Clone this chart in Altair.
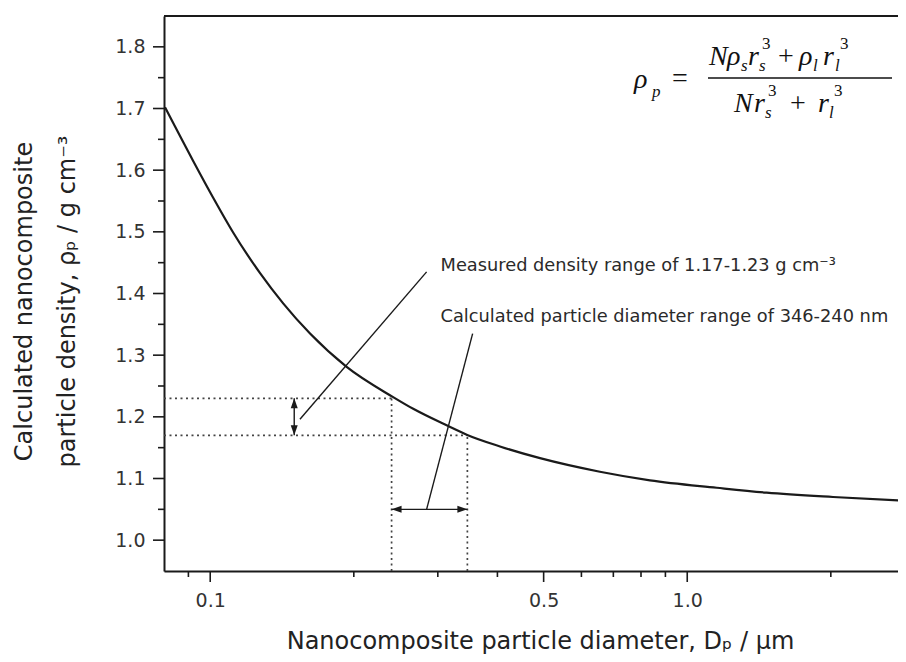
import altair as alt
import pandas as pd

# ---------------- data ----------------
diameter_um = [0.0804, 0.0921, 0.1015, 0.1117, 0.1272, 0.1422, 0.1619, 0.1932, 0.2418, 0.2664,
               0.3155, 0.3448, 0.405, 0.4913, 0.656, 0.8353, 1.153, 1.467, 2.021, 2.874]
density = [1.702, 1.615, 1.555, 1.499, 1.433, 1.384, 1.335, 1.281, 1.232, 1.213,
           1.185, 1.171, 1.152, 1.133, 1.111, 1.097, 1.085, 1.077, 1.070, 1.064]

x_major_ticks = [0.1, 0.5, 1.0]
x_minor_ticks = [0.09, 0.2, 0.3, 0.4, 0.6, 0.7, 0.8, 0.9, 2.0]
y_major_ticks = [1.0, 1.1, 1.2, 1.3, 1.4, 1.5, 1.6, 1.7, 1.8]
y_minor_ticks = [1.05, 1.15, 1.25, 1.35, 1.45, 1.55, 1.65, 1.75]

dens_lo, dens_hi = 1.17, 1.23          # measured density range
diam_lo, diam_hi = 0.240, 0.346        # calculated diameter range (um)
x_min = 0.08

# annotation anchor points (data space)
v_arrow_x = 0.15
h_arrow_y = 1.05
leader1 = [(0.1542, 1.196), (0.2842, 1.435)]
leader2 = [(0.2842, 1.050), (0.3549, 1.335)]
label1_pos = (0.304, 1.444)
label2_pos = (0.304, 1.362)
label1_text = "Measured density range of 1.17-1.23 g cm\u207b\u00b3"
label2_text = "Calculated particle diameter range of 346-240 nm"

# ---------------- layout ----------------
W, H = 734, 555
SANS = "DejaVu Sans"
SERIF = "Liberation Serif"
INK = "#1a1a1a"
MAJ, MINR = 11, 6

xs = alt.Scale(type="log", domain=[0.08, 2.766], nice=False)
ys = alt.Scale(domain=[0.95, 1.85], nice=False, zero=False)

x_axis = alt.Axis(
    values=x_major_ticks, format=".1f",
    ticks=False, tickSize=0, domainColor=INK, domainWidth=2,
    labelFont=SANS, labelFontSize=19, labelColor="#333", labelPadding=MAJ + 9,
    labelOverlap=False, labelFlush=False, grid=False,
    title="Nanocomposite particle diameter, D\u209a / \u00b5m",
    titleFont=SANS, titleFontSize=24, titleFontWeight="normal", titleColor="#222",
    titleX=376, titleY=77, titleBaseline="alphabetic", titleAlign="center",
)
y_axis = alt.Axis(
    values=y_major_ticks, format=".1f",
    ticks=False, tickSize=0, domainColor=INK, domainWidth=2,
    labelFont=SANS, labelFontSize=19, labelColor="#333", labelPadding=MAJ + 8,
    labelOverlap=False, labelFlush=False, grid=False,
    title=["Calculated nanocomposite", "particle density, \u03c1\u209a / g cm\u207b\u00b3"],
    titleFont=SANS, titleFontSize=24, titleFontWeight="normal", titleColor="#222",
    titleAngle=270, titleX=-140, titleY=285, titleAlign="center",
    titleBaseline="middle", titleLineHeight=43,
)

curve_df = pd.DataFrame({"D": diameter_um, "rho": density})
curve = alt.Chart(curve_df).mark_line(
    color=INK, strokeWidth=2.2, clip=True, interpolate="monotone"
).encode(
    x=alt.X("D:Q", scale=xs, axis=x_axis),
    y=alt.Y("rho:Q", scale=ys, axis=y_axis),
)

# axis tick marks (major longer than minor)
def x_ticks(vals, length):
    return alt.Chart(pd.DataFrame({"v": vals})).mark_rule(color=INK, strokeWidth=1.6).encode(
        x=alt.X("v:Q", scale=xs), y=alt.value(H), y2=alt.value(H + length)
    )

def y_ticks(vals, length):
    return alt.Chart(pd.DataFrame({"v": vals})).mark_rule(color=INK, strokeWidth=1.6).encode(
        y=alt.Y("v:Q", scale=ys), x=alt.value(0), x2=alt.value(-length)
    )

tick_layers = [x_ticks(x_major_ticks, MAJ), x_ticks(x_minor_ticks, MINR),
               y_ticks(y_major_ticks, MAJ), y_ticks(y_minor_ticks, MINR)]

# dotted guide lines
guides_df = pd.DataFrame({
    "x": [x_min, x_min, diam_lo, diam_hi],
    "x2": [diam_lo, diam_hi, diam_lo, diam_hi],
    "y": [dens_hi, dens_lo, 0.95, 0.95],
    "y2": [dens_hi, dens_lo, dens_hi, dens_lo],
})
guides = alt.Chart(guides_df).mark_rule(
    color="#444", strokeWidth=1.7, strokeDash=[2, 3.5]
).encode(x=alt.X("x:Q", scale=xs), x2="x2:Q", y=alt.Y("y:Q", scale=ys), y2="y2:Q")

# arrow shafts and leader lines
lines_df = pd.DataFrame({
    "x": [v_arrow_x, diam_lo, leader1[0][0], leader2[0][0]],
    "x2": [v_arrow_x, diam_hi, leader1[1][0], leader2[1][0]],
    "y": [dens_lo, h_arrow_y, leader1[0][1], leader2[0][1]],
    "y2": [dens_hi, h_arrow_y, leader1[1][1], leader2[1][1]],
})
lines = alt.Chart(lines_df).mark_rule(color=INK, strokeWidth=1.4).encode(
    x=alt.X("x:Q", scale=xs), x2="x2:Q", y=alt.Y("y:Q", scale=ys), y2="y2:Q"
)

heads = []
for (hx, hy, path) in [
    (v_arrow_x, dens_hi, "M0,0 L-0.35,1 L0.35,1 Z"),
    (v_arrow_x, dens_lo, "M0,0 L-0.35,-1 L0.35,-1 Z"),
    (diam_lo, h_arrow_y, "M0,0 L1,-0.35 L1,0.35 Z"),
    (diam_hi, h_arrow_y, "M0,0 L-1,-0.35 L-1,0.35 Z"),
]:
    heads.append(
        alt.Chart(pd.DataFrame({"x": [hx], "y": [hy]})).mark_point(
            shape=path, filled=True, color=INK, size=400, opacity=1, strokeWidth=0
        ).encode(x=alt.X("x:Q", scale=xs), y=alt.Y("y:Q", scale=ys))
    )

labels_df = pd.DataFrame({
    "x": [label1_pos[0], label2_pos[0]],
    "y": [label1_pos[1], label2_pos[1]],
    "t": [label1_text, label2_text],
})
labels = alt.Chart(labels_df).mark_text(
    font=SANS, fontSize=17.8, color="#2a2a2a", align="left", baseline="middle"
).encode(x=alt.X("x:Q", scale=xs), y=alt.Y("y:Q", scale=ys), text="t:N")

# top frame line
one = pd.DataFrame({"a": [0]})
top_rule = alt.Chart(one).mark_rule(color=INK, strokeWidth=2).encode(
    x=alt.value(0), x2=alt.value(W), y=alt.value(0)
)

# formula  rho_p = (N rho_s r_s^3 + rho_l r_l^3) / (N r_s^3 + r_l^3)
# (text, left x, baseline y in page px, size, italic)
OX, OY = 164, 16
BIG, SML = 28, 17
formula_pieces = [
    ("\u03c1", 634, 88, BIG, True), ("p", 652, 97, SML, True), ("=", 672, 87, BIG, False),
    ("N", 709, 65, BIG, True), ("\u03c1", 727, 65, BIG, True), ("s", 741, 71, SML, True),
    ("r", 748, 65, BIG, True), ("s", 759, 71, SML, True), ("3", 762, 49, SML, False),
    ("+", 778, 65, BIG, False), ("\u03c1", 799, 65, BIG, True), ("l", 813, 71, SML, True),
    ("r", 823, 65, BIG, True), ("l", 835, 71, SML, True), ("3", 840, 49, SML, False),
    ("N", 734, 112, BIG, True), ("r", 754, 112, BIG, True), ("s", 765, 118, SML, True),
    ("3", 768, 96, SML, False), ("+", 790, 112, BIG, False), ("r", 818, 112, BIG, True),
    ("l", 829, 118, SML, True), ("3", 834, 96, SML, False),
]
formula = []
for (t, px, py, fs, it) in formula_pieces:
    formula.append(
        alt.Chart(one).mark_text(
            text=t, font=SERIF, fontSize=fs, fontStyle="italic" if it else "normal",
            color="#111", align="left", baseline="alphabetic"
        ).encode(x=alt.value(px - OX), y=alt.value(py - OY))
    )
frac_bar = alt.Chart(one).mark_rule(color="#111", strokeWidth=1.5).encode(
    x=alt.value(708 - OX), x2=alt.value(892 - OX), y=alt.value(78 - OY)
)

chart = alt.layer(
    guides, curve, *tick_layers, lines, *heads, labels, top_rule, frac_bar, *formula
).properties(
    width=W, height=H,
    autosize=alt.AutoSizeParams(type="none"),
    padding={"left": 156, "top": 8, "right": 0, "bottom": 85},
).configure_view(stroke=None).configure(background="white")

chart.save("out.html", embed_options={"renderer": "svg", "actions": False})
